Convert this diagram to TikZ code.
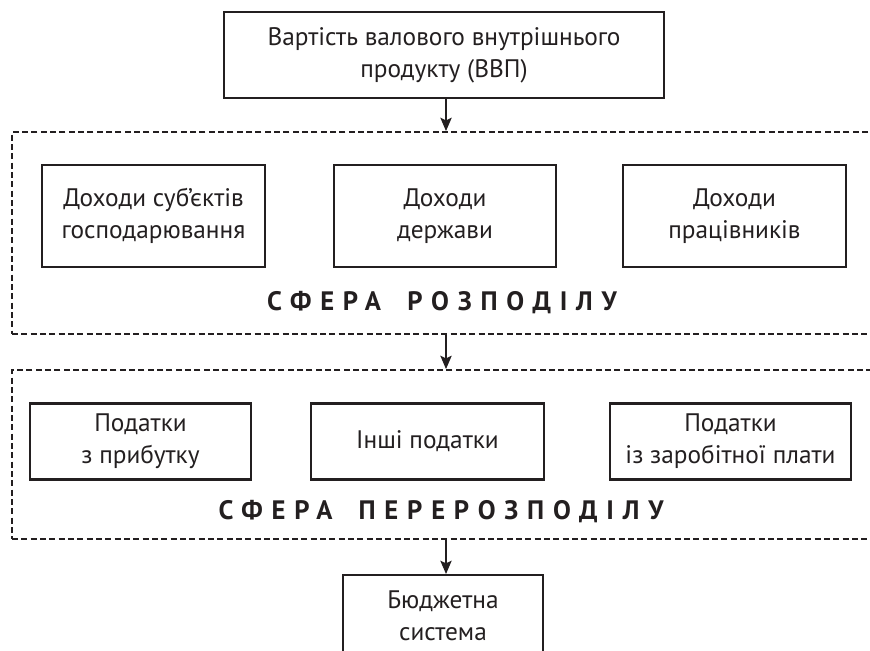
\documentclass[tikz,border=0pt]{standalone}
\usepackage{fontspec}
\setmainfont{PT Sans}
\usetikzlibrary{arrows.meta,fit}
\definecolor{ink}{RGB}{35,31,32}
\tikzset{
  box/.style={draw=ink, line width=1.7pt, align=center, inner sep=0pt, text=ink},
  frame/.style={draw=ink, line width=1.4pt, dash pattern=on 4.5pt off 2.5pt, inner sep=0pt},
  sphere/.style={text=ink, font=\fontsize{20}{24}\selectfont\bfseries\addfontfeature{LetterSpace=33}},
  arr/.style={draw=ink, line width=1.1pt, -{Stealth[length=10pt,width=8.5pt,inset=2pt]}}
}
\begin{document}
\begin{tikzpicture}[x=0.75pt,y=-0.75pt,font=\fontsize{19}{24}\selectfont]
\useasboundingbox (0,0) rectangle (870,650);

\node[box, line width=2pt, minimum width=330pt, minimum height=64.5pt] (gdp) at (444,55) {Вартість валового внутрішнього\\продукту (ВВП)};

\node[frame, fit={(12,132) (885,334)}] (distr) {};
\node[box, minimum width=167.25pt, minimum height=76.5pt] (firms) at (153.5,216) {Доходи суб’єктів\\господарювання};
\node[box, minimum width=166.5pt, minimum height=76.5pt] (state) at (445,216) {Доходи\\держави};
\node[box, minimum width=167.25pt, minimum height=76.5pt] (workers) at (734.5,216) {Доходи\\працівників};
\node[sphere] (distrlabel) at (442,303) {СФЕРА \hspace{8pt}РОЗПОДІЛУ};

\node[frame, fit={(12,370) (885,539)}] (redistr) {};
\node[box, minimum width=165.75pt, minimum height=57pt] (profit) at (140.5,441.5) {Податки\\з прибутку};
\node[box, minimum width=174.75pt, minimum height=57pt] (other) at (427.5,441.5) {Інші податки};
\node[box, minimum width=180.75pt, minimum height=57pt] (wages) at (730.5,441.5) {Податки\\із заробітної плати};
\node[sphere] (redistrlabel) at (441,512) {СФЕРА \hspace{8pt}ПЕРЕРОЗПОДІЛУ};

\node[box, anchor=north, minimum width=150pt] (budget) at (443,574) {\rule{0pt}{24.75pt}Бюджетна\\система\rule[-40pt]{0pt}{40pt}};

\coordinate (axis) at (446,0);
\draw[arr] (axis |- gdp.south) -- (axis |- distr.north);
\draw[arr] (axis |- distr.south) -- (axis |- redistr.north);
\draw[arr] (axis |- redistr.south) -- (axis |- budget.north);
\end{tikzpicture}
\end{document}
